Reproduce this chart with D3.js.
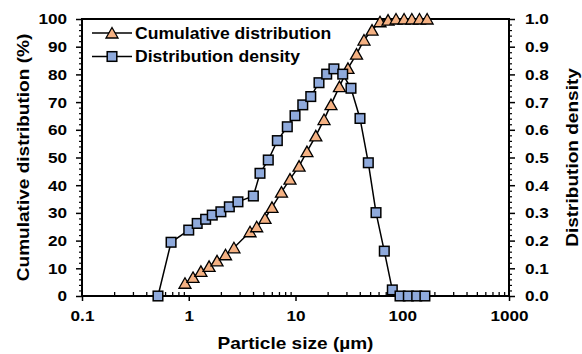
<!DOCTYPE html>
<html>
<head>
<meta charset="utf-8">
<script src="https://cdn.jsdelivr.net/npm/d3@7"></script>
<style>
  html, body { margin: 0; padding: 0; background: #fff; }
  svg { display: block; }
  text { font-family: "Liberation Sans", Arial, sans-serif; font-weight: bold; fill: #000; }
</style>
</head>
<body>
<svg id="chart" width="582" height="354"></svg>
<script>
// ---- data ----
const densitySize  = [0.515, 0.683, 1.0, 1.2, 1.44, 1.66, 2.0, 2.4, 2.89, 4.03, 4.65, 5.56, 6.76, 8.38, 9.9, 11.7, 13.9, 16.6, 19.6, 22.9, 27.7, 33.1, 40.2, 48.1, 56.8, 67.9, 80.7, 95.3, 114, 136.5, 163];
const densityValue = [0, 0.194, 0.238, 0.262, 0.277, 0.292, 0.304, 0.322, 0.340, 0.361, 0.443, 0.491, 0.561, 0.611, 0.651, 0.690, 0.720, 0.770, 0.801, 0.820, 0.801, 0.750, 0.641, 0.481, 0.301, 0.162, 0.022, 0, 0, 0, 0];
const cumSize  = [0.922, 1.096, 1.30, 1.55, 1.84, 2.21, 2.65, 3.75, 4.33, 5.18, 6.02, 7.39, 8.88, 10.8, 12.8, 15.5, 18.5, 21.5, 25.8, 31.0, 37.3, 43.8, 52.1, 61.9, 73.6, 87.4, 104, 123, 145, 171];
const cumValue = [4.6, 6.7, 8.9, 10.7, 12.7, 14.9, 17.4, 23.2, 25.0, 28.0, 32.0, 37.5, 42.2, 46.9, 52.1, 57.8, 63.7, 69.1, 75.6, 82.2, 87.3, 92.4, 96.0, 99.0, 99.6, 100, 100, 100, 100, 100];
const xTicks = [0.1, 1, 10, 100, 1000];
const xTickLabels = ["0.1", "1", "10", "100", "1000"];
const yLeftTicks = [0, 10, 20, 30, 40, 50, 60, 70, 80, 90, 100];
const yRightTicks = [0, 0.1, 0.2, 0.3, 0.4, 0.5, 0.6, 0.7, 0.8, 0.9, 1.0];
const seriesNames = ["Cumulative distribution", "Distribution density"];
const xTitle = "Particle size (µm)";
const yLeftTitle = "Cumulative distribution (%)";
const yRightTitle = "Distribution density";

// ---- layout ----
const L = 82, R = 509, T = 19, B = 296;
const STRETCH = 1.12;
const triColor = "#F4B183", sqColor = "#8FAADC";

const svg = d3.select("#chart");
const x = d3.scaleLog().domain([0.1, 1000]).range([L, R]);
const yL = d3.scaleLinear().domain([0, 100]).range([B, T]);
const yR = d3.scaleLinear().domain([0, 1]).range([B, T]);

function stretch(sel) {
  sel.each(function () {
    const w = this.getComputedTextLength();
    this.setAttribute("textLength", w * STRETCH);
    this.setAttribute("lengthAdjust", "spacingAndGlyphs");
  });
}

// minor ticks
const xMinor = [];
[0.1, 1, 10, 100].forEach(d => { for (let k = 2; k <= 9; k++) xMinor.push(d * k); });
const yLMinor = d3.range(0, 101, 2).filter(v => v % 10 !== 0);
const yRMinor = d3.range(0, 51).map(v => v / 50).filter((v, i) => i % 5 !== 0);

const axisG = svg.append("g");

// x axis minor ticks (inward)
axisG.append("g").attr("transform", `translate(0,${B})`)
  .call(d3.axisTop(x).tickValues(xMinor).tickSize(4).tickFormat(""))
  .call(g => g.select(".domain").remove())
  .selectAll("line").attr("stroke", "#000").attr("stroke-width", 1.3);
// x axis major
const gx = axisG.append("g").attr("transform", `translate(0,${B})`)
  .call(d3.axisBottom(x).tickValues(xTicks).tickSize(5).tickPadding(10)
    .tickFormat((d, i) => xTickLabels[i]));
gx.select(".domain").remove();
gx.selectAll("line").attr("stroke", "#000").attr("stroke-width", 1.5);
gx.selectAll("text").attr("font-size", 15.3).attr("font-family", "Liberation Sans, Arial, sans-serif").attr("font-weight", "bold").attr("dy", "0.71em").attr("y", 14);

// left axis
axisG.append("g").attr("transform", `translate(${L},0)`)
  .call(d3.axisLeft(yL).tickValues(yLMinor).tickSize(3).tickFormat(""))
  .call(g => g.select(".domain").remove())
  .selectAll("line").attr("stroke", "#000").attr("stroke-width", 1.2);
const gyl = axisG.append("g").attr("transform", `translate(${L},0)`)
  .call(d3.axisLeft(yL).tickValues(yLeftTicks).tickSize(6).tickPadding(9));
gyl.select(".domain").remove();
gyl.selectAll("line").attr("stroke", "#000").attr("stroke-width", 1.5);
gyl.selectAll("text").attr("font-size", 15.3).attr("font-family", "Liberation Sans, Arial, sans-serif").attr("font-weight", "bold");

// right axis
axisG.append("g").attr("transform", `translate(${R},0)`)
  .call(d3.axisRight(yR).tickValues(yRMinor).tickSize(3).tickFormat(""))
  .call(g => g.select(".domain").remove())
  .selectAll("line").attr("stroke", "#000").attr("stroke-width", 1.2);
const gyr = axisG.append("g").attr("transform", `translate(${R},0)`)
  .call(d3.axisRight(yR).tickValues(yRightTicks).tickSize(6).tickPadding(10).tickFormat(d3.format(".1f")));
gyr.select(".domain").remove();
gyr.selectAll("line").attr("stroke", "#000").attr("stroke-width", 1.5);
gyr.selectAll("text").attr("font-size", 15.3).attr("font-family", "Liberation Sans, Arial, sans-serif").attr("font-weight", "bold");

// frame
svg.append("rect").attr("x", L).attr("y", T).attr("width", R - L).attr("height", B - T)
  .attr("fill", "none").attr("stroke", "#000").attr("stroke-width", 2);

// triangle path centered on bbox
const triPath = "M0,-5.5L6,5L-6,5Z";

// cumulative series
const cumData = cumSize.map((s, i) => ({ s, v: cumValue[i] }));
svg.append("path").datum(cumData)
  .attr("d", d3.line().x(d => x(d.s)).y(d => yL(d.v)))
  .attr("fill", "none").attr("stroke", "#000").attr("stroke-width", 1.5);
svg.append("g").selectAll("path").data(cumData).join("path")
  .attr("d", triPath)
  .attr("transform", d => `translate(${x(d.s)},${yL(d.v)})`)
  .attr("fill", triColor).attr("stroke", "#000").attr("stroke-width", 1.3).attr("stroke-linejoin", "miter");

// density series
const denData = densitySize.map((s, i) => ({ s, v: densityValue[i] }));
svg.append("path").datum(denData)
  .attr("d", d3.line().x(d => x(d.s)).y(d => yR(d.v)))
  .attr("fill", "none").attr("stroke", "#000").attr("stroke-width", 1.5);
svg.append("g").selectAll("rect").data(denData).join("rect")
  .attr("x", d => x(d.s) - 4.8).attr("y", d => yR(d.v) - 4.8)
  .attr("width", 9.6).attr("height", 9.6)
  .attr("fill", sqColor).attr("stroke", "#000").attr("stroke-width", 1.5);

// legend
const leg = svg.append("g");
const legRows = [{ y: 33, name: seriesNames[0], type: "tri" }, { y: 56.5, name: seriesNames[1], type: "sq" }];
legRows.forEach(r => {
  leg.append("line").attr("x1", 92).attr("x2", 132).attr("y1", r.y).attr("y2", r.y)
    .attr("stroke", "#000").attr("stroke-width", 1.5);
  if (r.type === "tri") {
    leg.append("path").attr("d", triPath).attr("transform", `translate(112,${r.y})`)
      .attr("fill", triColor).attr("stroke", "#000").attr("stroke-width", 1.3);
  } else {
    leg.append("rect").attr("x", 112 - 4.8).attr("y", r.y - 4.8).attr("width", 9.6).attr("height", 9.6)
      .attr("fill", sqColor).attr("stroke", "#000").attr("stroke-width", 1.5);
  }
  leg.append("text").attr("class", "lt").attr("x", 135).attr("y", r.y + 5.5)
    .attr("font-size", 15.7).text(r.name);
});

// titles
svg.append("text").attr("class", "tt").attr("x", (L + R) / 2).attr("y", 349)
  .attr("text-anchor", "middle").attr("font-size", 17).text(xTitle);
svg.append("text").attr("class", "tt").attr("transform", `translate(29,${(T + B) / 2}) rotate(-90)`)
  .attr("text-anchor", "middle").attr("font-size", 17).text(yLeftTitle);
svg.append("text").attr("class", "tt").attr("transform", `translate(578,${(T + B) / 2}) rotate(-90)`)
  .attr("text-anchor", "middle").attr("font-size", 17).text(yRightTitle);

svg.selectAll("text").call(stretch);
</script>
</body>
</html>
